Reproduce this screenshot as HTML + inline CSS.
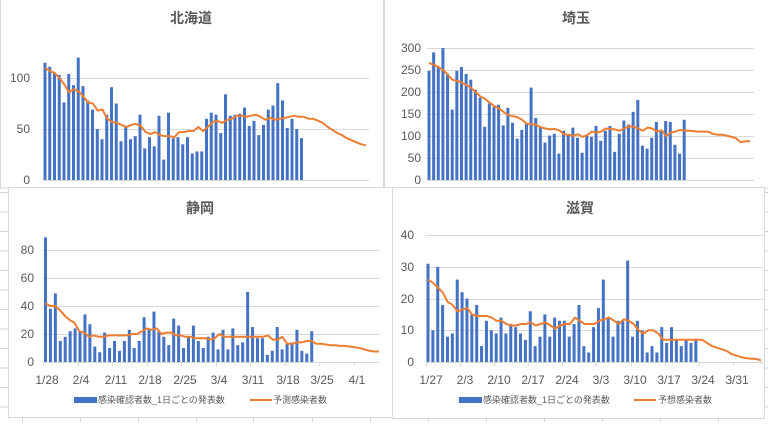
<!DOCTYPE html>
<html><head><meta charset="utf-8"><style>
body{margin:0;width:768px;height:422px;overflow:hidden;background:#fff;font-family:"Liberation Sans","Noto Sans CJK JP",sans-serif}
svg text{font-family:"Liberation Sans","Noto Sans CJK JP",sans-serif;fill:#595959}
</style></head><body>
<svg id="s" width="768" height="422" viewBox="0 0 768 422" xmlns="http://www.w3.org/2000/svg">
<rect width="768" height="422" fill="#fff"/>
<g id="bg" stroke="#d4d4d4" stroke-width="1"></g>
<!-- top charts -->
<rect x="0.5" y="-1" width="383" height="189" fill="#fff" stroke="#d9d9d9"/>
<rect x="384.5" y="-1" width="384" height="189" fill="#fff" stroke="#d9d9d9"/>
<text x="191" y="23" font-size="14" font-weight="bold" text-anchor="middle">北海道</text>
<text x="576" y="23" font-size="14" font-weight="bold" text-anchor="middle">埼玉</text>
<g id="hk"></g><g id="st"></g>
<g font-size="12" text-anchor="end">
<text x="30" y="184">0</text><text x="30" y="133">50</text><text x="30" y="82">100</text>
<text x="421" y="184">0</text><text x="421" y="162">50</text><text x="421" y="140">100</text><text x="421" y="118">150</text><text x="421" y="96">200</text><text x="421" y="74">250</text><text x="421" y="52">300</text>
</g>
<!-- bottom charts -->
<rect x="8.5" y="187.5" width="384" height="230" fill="#fff" stroke="#d9d9d9"/>
<rect x="392.5" y="187.5" width="372" height="231" fill="#fff" stroke="#d9d9d9"/>
<text x="200" y="213" font-size="14" font-weight="bold" text-anchor="middle">静岡</text>
<text x="580" y="213" font-size="14" font-weight="bold" text-anchor="middle">滋賀</text>
<g id="sz"></g><g id="sg"></g>
<g font-size="12" text-anchor="end">
<text x="34" y="366">0</text><text x="34" y="338">20</text><text x="34" y="310">40</text><text x="34" y="282">60</text><text x="34" y="254">80</text>
<text x="414" y="366">0</text><text x="414" y="334">10</text><text x="414" y="303">20</text><text x="414" y="271">30</text><text x="414" y="239">40</text>
</g>
<g font-size="12" text-anchor="middle">
<text x="47" y="384">1/28</text><text x="81" y="384">2/4</text><text x="116" y="384">2/11</text><text x="150" y="384">2/18</text><text x="185" y="384">2/25</text><text x="219" y="384">3/4</text><text x="253" y="384">3/11</text><text x="288" y="384">3/18</text><text x="322" y="384">3/25</text><text x="357" y="384">4/1</text>
<text x="431" y="384">1/27</text><text x="465" y="384">2/3</text><text x="499" y="384">2/10</text><text x="533" y="384">2/17</text><text x="567" y="384">2/24</text><text x="601" y="384">3/3</text><text x="635" y="384">3/10</text><text x="669" y="384">3/17</text><text x="703" y="384">3/24</text><text x="737" y="384">3/31</text>
</g>
<g font-size="9">
<rect x="74" y="397" width="23" height="6" fill="#4472C4"/><text x="98" y="403">感染確認者数_1日ごとの発表数</text>
<line x1="250" y1="400" x2="272" y2="400" stroke="#ED7D31" stroke-width="2"/><text x="273" y="403">予測感染者数</text>
<rect x="459" y="397" width="23" height="6" fill="#4472C4"/><text x="483" y="403">感染確認者数_1日ごとの発表数</text>
<line x1="634" y1="400" x2="656" y2="400" stroke="#ED7D31" stroke-width="2"/><text x="658" y="403">予想感染者数</text>
</g>
</svg>
<script>
var NS="http://www.w3.org/2000/svg";
function el(p,t,a){var e=document.createElementNS(NS,t);for(var k in a)e.setAttribute(k,a[k]);p.appendChild(e);return e;}
var bg=document.getElementById('bg');
for(var y=192;y<422;y+=19.5){el(bg,'line',{x1:0,y1:y+.5,x2:8,y2:y+.5});el(bg,'line',{x1:764,y1:y+.5,x2:768,y2:y+.5});}
[22,80,138,196,253,312,370,428,486,544,602,660,718].forEach(function(x){el(bg,'line',{x1:x+.5,y1:418,x2:x+.5,y2:422});});
function chart(id,o){
 var g=document.getElementById(id);
 o.grid.forEach(function(v){var y=Math.round(o.y0-v*o.sc)+.5;el(g,'line',{x1:o.x0,y1:y,x2:o.x1,y2:y,stroke:'#d9d9d9','stroke-width':1});});
 if(o.ticks){for(var t=0;t<=o.nt;t++){var x=Math.round(o.x0+t*7*o.d)+.5;el(g,'line',{x1:x,y1:o.y0,x2:x,y2:o.y0+4,stroke:'#d9d9d9'});}}
 o.bars.forEach(function(v,i){var h=v*o.sc;el(g,'rect',{x:o.x0+o.bo+i*o.d,y:o.y0-h,width:3,height:h,fill:'#4472C4'});});
 var pts=o.line.map(function(v,i){return (o.x0+o.bo+1.5+i*o.ld).toFixed(1)+','+(o.y0-v*o.sc).toFixed(1);}).join(' ');
 el(g,'polyline',{points:pts,fill:'none',stroke:'#ED7D31','stroke-width':2,'stroke-linejoin':'round'});
}
var hkL=[110,107,105,100,94,86,89,87,82,76,75,68,69,60,57,56,54,52,54,55,53,47,45,47,44,43,43,42,47,47,48,48,52,48,52,57,58,56,59,60,63,63,62,63,64,62,59,61,59,60,61,62,63,62,62,60,60,58,56,52,49,46,44,41,39,37,35,34];
chart('hk',{x0:43,x1:369,y0:180,sc:1.02,d:4.75,bo:0.5,ld:(366-45)/(hkL.length-1),grid:[0,50,100],
bars:[115,111,105,103,76,104,93,120,92,78,69,50,40,64,91,75,38,52,40,43,64,31,42,33,63,20,66,41,42,35,42,26,28,28,60,66,64,46,84,63,64,65,71,53,58,44,54,69,73,95,78,51,60,50,41],line:hkL});
var stL=[266,262,257,250,240,228,225,222,216,210,200,190,185,176,168,163,155,148,145,143,137,128,127,125,120,117,115,116,113,104,103,100,104,98,102,110,108,110,117,116,115,112,117,122,121,117,112,119,117,110,113,100,108,110,114,112,112,111,110,110,110,105,103,103,101,98,95,86,88,88];
chart('st',{x0:427,x1:754,y0:180,sc:0.44,d:4.64,bo:0.5,ld:(751-430)/(stL.length-1),grid:[0,50,100,150,200,250,300],
bars:[248,290,258,300,242,160,248,257,241,228,205,187,121,174,166,171,124,164,130,94,114,128,210,141,120,85,101,105,60,112,104,119,96,62,103,98,123,89,112,123,64,105,135,126,155,182,78,71,96,132,112,134,132,80,60,137],line:stL});
var szL=[42,40,40,37,33,30,28,22,21,18,19,18,18,19,19,19,19,19,20,20,22,24,23,24,20,21,21,19,19,18,18,17,17,17,16,17,20,18,18,18,18,18,18,18,18,18,19,16,16,18,13,13,14,14,15,15,13,13,12.5,12,12,11.5,11.5,11,10.5,10,9,8,7.5,7.5];
chart('sz',{x0:43,x1:380,y0:362,sc:1.4,d:4.93,bo:1,ticks:1,nt:9,ld:(379-45.5)/(szL.length-1),grid:[0,20,40,60,80],
bars:[89,38,49,15,18,22,24,22,34,27,11,7,21,10,15,8,15,23,10,15,32,23,36,22,18,12,31,26,10,18,26,15,10,18,21,9,23,9,24,12,14,50,25,17,17,5,8,25,9,13,14,23,8,6,22],line:szL});
var sgL=[26,25,23.5,22,19,18,16,16.5,17,15,14.5,14.5,14.5,14,13,13,12,11.5,11.5,12,12,12.5,11.5,12,12.5,11.5,10.5,11.5,12,12,14,13,12,12,12,13,13.5,14,13,12,13.5,13,12,10,9,10,10,9,7,7,7,7,7,7,7,7,7,6,5,4.5,4,3.5,2.5,2,1.5,1.2,1,1,0.5];
chart('sg',{x0:426,x1:763,y0:362,sc:3.17,d:4.87,bo:0.5,ticks:1,nt:9,ld:(761-428)/(sgL.length-1),grid:[0,10,20,30,40],
bars:[31,10,30,18,8,9,26,22,20,15,18,5,13,10,9,14,9,12,11,9,7,16,5,8,15,8,14,13,13,8,12,18,5,3,11,17,26,14,8,13,13,32,8,13,10,3,5,3,11,6,11,7,5,7,6,7],line:sgL});
</script>
</body></html>
